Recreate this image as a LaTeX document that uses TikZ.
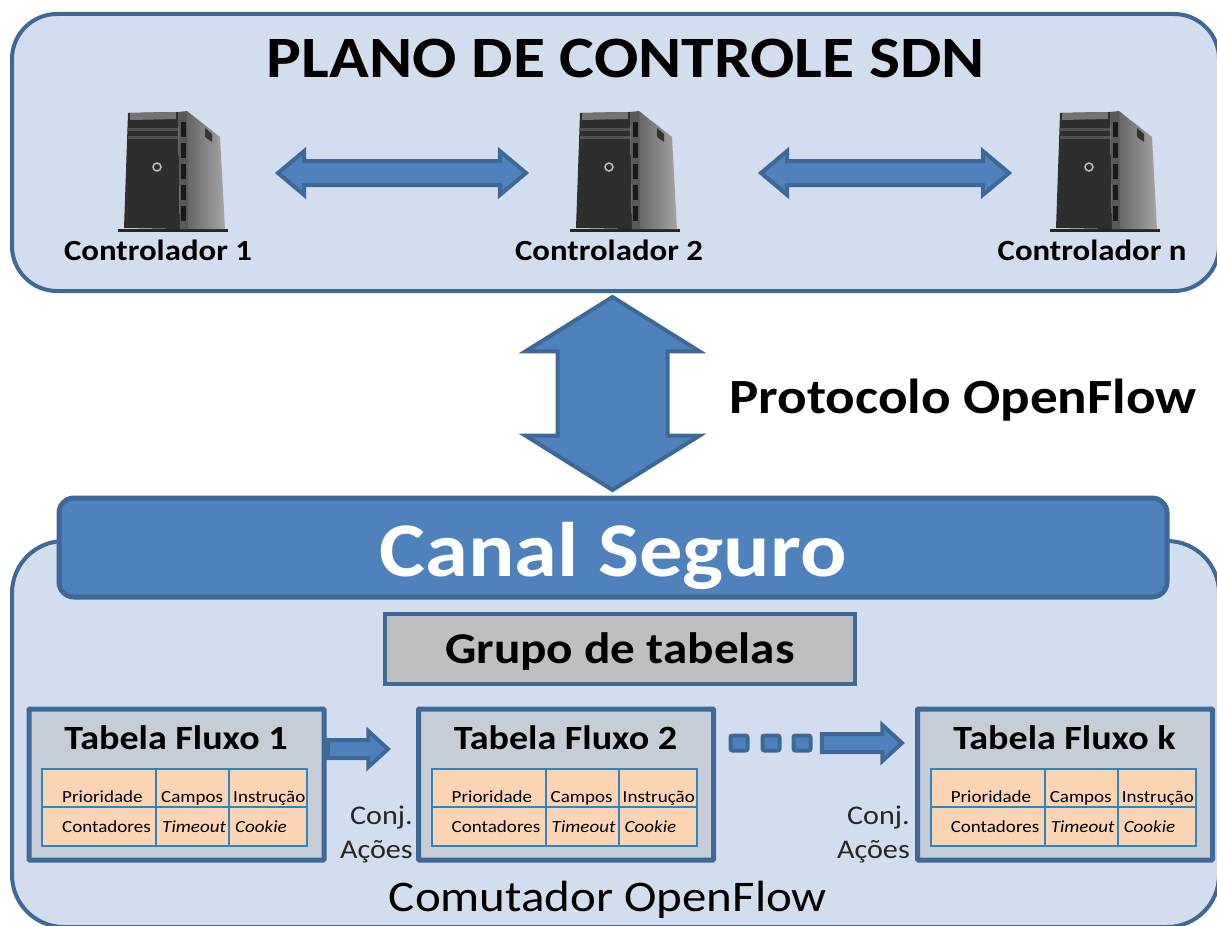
\documentclass[tikz,border=0pt]{standalone}
\usepackage{fontspec}
\setmainfont[FakeStretch=1.12]{Carlito}
\usetikzlibrary{shapes.arrows}
\definecolor{painel}{HTML}{D2DDED}
\definecolor{borda}{HTML}{3E6896}
\definecolor{azul}{HTML}{4F81BD}
\definecolor{tabela}{HTML}{C6CDD6}
\definecolor{grupo}{HTML}{BFBFBF}
\definecolor{celula}{HTML}{FBD4B4}
\definecolor{linha}{HTML}{2F85C0}
\def \u{0.03cm}
\tikzstyle{painelbox} = [draw=borda,fill=painel,line width=4*\u,rounded corners=45*\u]
\tikzstyle{setadupla} = [double arrow,draw=borda,fill=azul,line width=4*\u,inner xsep=0pt,inner ysep=10*\u,double arrow head extend=10*\u,minimum width=39*\u,double arrow tip angle=80]
\tikzstyle{setasimples} = [single arrow,draw=borda,fill=azul,line width=4*\u,inner xsep=0pt,inner ysep=7*\u,single arrow head extend=9*\u,minimum width=31*\u,single arrow tip angle=85]
\tikzstyle{ponto} = [draw=borda,fill=azul,line width=4*\u,rounded corners=2*\u,inner sep=0pt,minimum width=17*\u,minimum height=15*\u]
\tikzstyle{rotulo} = [inner sep=0pt,font=\fontsize{25}{25}\bfseries\selectfont]
\tikzstyle{celtexto} = [inner sep=0pt,anchor=base west,font=\fontsize{14.5}{14.5}\selectfont]
\tikzstyle{acoes} = [inner sep=0pt,anchor=base east,text=black!85,font=\fontsize{23}{23}\selectfont]

% one tower server, #1 is the shift and #2 the name
\def \servidor#1#2{
	\begin{scope}[shift={(#1,0)}]
	\coordinate (#2) at (173,170);
	\fill[black!85] (118,229) -- (228,229) -- (228,232) -- (118,232) -- cycle;
	\shade[left color=black!65,right color=black!35] (187,111) -- (220,137) -- (225,229) -- (180,229) -- cycle;
	\fill[black!80] (205,128) -- (212,134) -- (212,142) -- (205,137) -- cycle;
	\fill[black!82] (128,113) -- (178,112) -- (180,229) -- (124,228) -- cycle;
	\fill[black!55] (130,113) -- (176,112) -- (176,119) -- (130,120) -- cycle;
	\fill[black!65] (178,112) -- (187,111) -- (188,229) -- (180,229) -- cycle;
	\foreach \s in {122,143,164,185,206}
		\fill[black!90] (181,\s) rectangle (186,\s+15);
	\foreach \s in {128,136}
		\fill[black!68] (128,\s) rectangle (178,\s+3);
	\draw[black!25,line width=1.5*\u] (157,167) circle (4);
	\end{scope}
}

% one flow table, #1 is the name, #2 the shift and #3 the title
\def \tabelafluxo#1#2#3{
	\begin{scope}[shift={(#2,0)}]
	\node[draw=borda,fill=tabela,line width=5*\u,rounded corners=1*\u,inner sep=0pt,minimum width=295*\u,minimum height=151*\u] (#1) at (176.5,784.5) {};
	\node[inner sep=0pt,font=\fontsize{29}{29}\bfseries\selectfont] (#1t) at (176,738) {#3};
	\draw[linha,fill=celula,line width=2*\u] (42,769) rectangle (307,846);
	\draw[linha,line width=2*\u] (42,807) -- (307,807) (156,769) -- (156,846) (229,769) -- (229,846);
	\node[celtexto] (#1a) at (62,802) {Prioridade};
	\node[celtexto] (#1b) at (161,802) {Campos};
	\node[celtexto] (#1c) at (233,802) {Instrução};
	\node[celtexto] (#1d) at (62,832) {Contadores};
	\node[celtexto,font=\fontsize{14.5}{14.5}\itshape\selectfont] (#1e) at (162,832) {Timeout};
	\node[celtexto,font=\fontsize{14.5}{14.5}\itshape\selectfont] (#1f) at (235,832) {Cookie};
	\end{scope}
}

\begin{document}
\begin{tikzpicture}[x=\u,y=-\u]
		\useasboundingbox (0,0) rectangle (1217,925);
		\clip (0,0) rectangle (1217,925);

		% Draw the two panels
		\draw[painelbox] (12,14) rectangle (1219,291);
		\draw[painelbox,rounded corners=52*\u] (12,541) rectangle (1219,927);

		% control plane
		\node[inner sep=0pt,font=\fontsize{50}{50}\bfseries\selectfont] (titulo) at (626,58) {PLANO DE CONTROLE SDN};
		\servidor{0}{srv1}
		\servidor{452}{srv2}
		\servidor{932}{srv3}
		\node[rotulo] (ctl1) at (158,250) {Controlador 1};
		\node[rotulo] (ctl2) at (609,250) {Controlador 2};
		\node[rotulo] (ctln) at (1092,250) {Controlador n};
		\node[setadupla,minimum height=248*\u] (seta12) at (402,173) {};
		\node[setadupla,minimum height=248*\u] (seta2n) at (885,173) {};

		% channel between the planes
		\node[setadupla,rotate=90,minimum height=193*\u,minimum width=170*\u,inner ysep=53*\u,double arrow head extend=32*\u,double arrow tip angle=116] (seta) at (612.5,393.5) {};
		\node[inner sep=0pt,font=\fontsize{42}{42}\bfseries\selectfont] (protocolo) at (963,400) {Protocolo OpenFlow};

		\node[draw=borda,fill=azul,line width=5*\u,rounded corners=15*\u,inner sep=0pt,minimum width=1108*\u,minimum height=99*\u] (canal) at (613,547.5) {};
		\node[inner sep=0pt,text=white,font=\fontsize{66}{66}\bfseries\selectfont] (canalt) at (613,556) {Canal Seguro};
		\node[draw=borda,fill=grupo,line width=4*\u,inner sep=0pt,minimum width=470*\u,minimum height=70*\u] (grupo) at (620,649) {};
		\node[inner sep=0pt,font=\fontsize{37.5}{37.5}\bfseries\selectfont] (grupot) at (620,652) {Grupo de tabelas};

		% Draw the tables
		\tabelafluxo{tab1}{0}{Tabela Fluxo 1}
		\tabelafluxo{tab2}{389.5}{Tabela Fluxo 2}
		\tabelafluxo{tabk}{888.5}{Tabela Fluxo k}

		\node[setasimples,minimum height=60*\u] (seta1) at (353,749) {};
		\foreach \i/\x in {1/739,2/771,3/802}
			\node[ponto] (ponto\i) at (\x,743) {};
		\node[setasimples,minimum height=80*\u] (setak) at (857,743) {};

		\node[acoes] (conj1) at (413,824) {Conj.};
		\node[acoes] (acoes1) at (413,858) {Ações};
		\node[acoes] (conjk) at (910,824) {Conj.};
		\node[acoes] (acoesk) at (910,858) {Ações};
		\node[inner sep=0pt,font=\fontsize{37.3}{37.3}\selectfont] (comutador) at (608,900) {Comutador OpenFlow};
\end{tikzpicture}
\end{document}
